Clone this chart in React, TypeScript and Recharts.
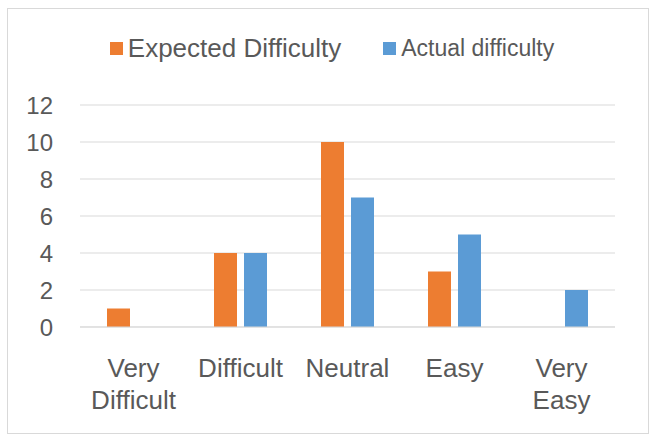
import { Bar, BarChart, CartesianGrid, XAxis, YAxis } from 'recharts';

const CATEGORIES = ['Very Difficult', 'Difficult', 'Neutral', 'Easy', 'Very Easy'];
const EXPECTED = [1, 4, 10, 3, 0];
const ACTUAL = [0, 4, 7, 5, 2];
const Y_TICKS = [0, 2, 4, 6, 8, 10, 12];

const ORANGE = '#ED7D31';
const BLUE = '#5B9BD5';
const TEXT = '#595959';
const FONT = '"Liberation Sans", Arial, sans-serif';

const data = CATEGORIES.map((name, i) => ({
  name,
  expected: EXPECTED[i],
  actual: ACTUAL[i],
}));

// Excel wraps the two-word categories onto two lines
function CategoryTick({ x, y, payload }: any) {
  const words = String(payload.value).split(' ');
  return (
    <text x={x} y={y} textAnchor="middle" fill={TEXT} fontSize={26} fontFamily={FONT}>
      {words.map((w, i) => (
        <tspan key={i} x={x} dy={i === 0 ? 42 : 32}>
          {w}
        </tspan>
      ))}
    </text>
  );
}

function ChartLegend() {
  const swatch = (color: string) => ({
    width: 13,
    height: 13,
    background: color,
    display: 'inline-block',
    marginRight: 5,
  });
  return (
    <div
      style={{
        position: 'absolute',
        top: 30,
        left: 4,
        width: 656,
        height: 36,
        display: 'flex',
        alignItems: 'center',
        justifyContent: 'center',
        fontFamily: FONT,
        color: TEXT,
        whiteSpace: 'nowrap',
      }}
    >
      <span style={swatch(ORANGE)} />
      <span style={{ fontSize: 26 }}>Expected Difficulty</span>
      <span style={{ ...swatch(BLUE), marginLeft: 42 }} />
      <span style={{ fontSize: 23 }}>Actual difficulty</span>
    </div>
  );
}

export default function App() {
  return (
    <div style={{ position: 'absolute', left: 0, top: 0, width: 656, height: 443, background: '#fff' }}>
      <div
        style={{
          position: 'absolute',
          left: 7,
          top: 8,
          width: 640,
          height: 424,
          border: '1px solid #d9d9d9',
        }}
      />
      <ChartLegend />
      <BarChart
        width={656}
        height={443}
        data={data}
        margin={{ top: 105, right: 41, left: 0, bottom: 86 }}
        barCategoryGap={27}
        barGap={7}
        style={{ position: 'absolute', left: 0, top: 0 }}
      >
        <CartesianGrid stroke="#d9d9d9" vertical={false} />
        <XAxis
          dataKey="name"
          axisLine={{ stroke: '#d9d9d9' }}
          tickLine={false}
          tick={<CategoryTick />}
          interval={0}
        />
        <YAxis
          domain={[0, 12]}
          ticks={Y_TICKS}
          interval={0}
          width={80}
          axisLine={false}
          tickLine={false}
          tickSize={0}
          tickMargin={27}
          tick={{ fill: TEXT, fontSize: 24, fontFamily: FONT }}
        />
        <Bar dataKey="expected" name="Expected Difficulty" fill={ORANGE} isAnimationActive={false} />
        <Bar dataKey="actual" name="Actual difficulty" fill={BLUE} isAnimationActive={false} />
      </BarChart>
    </div>
  );
}
